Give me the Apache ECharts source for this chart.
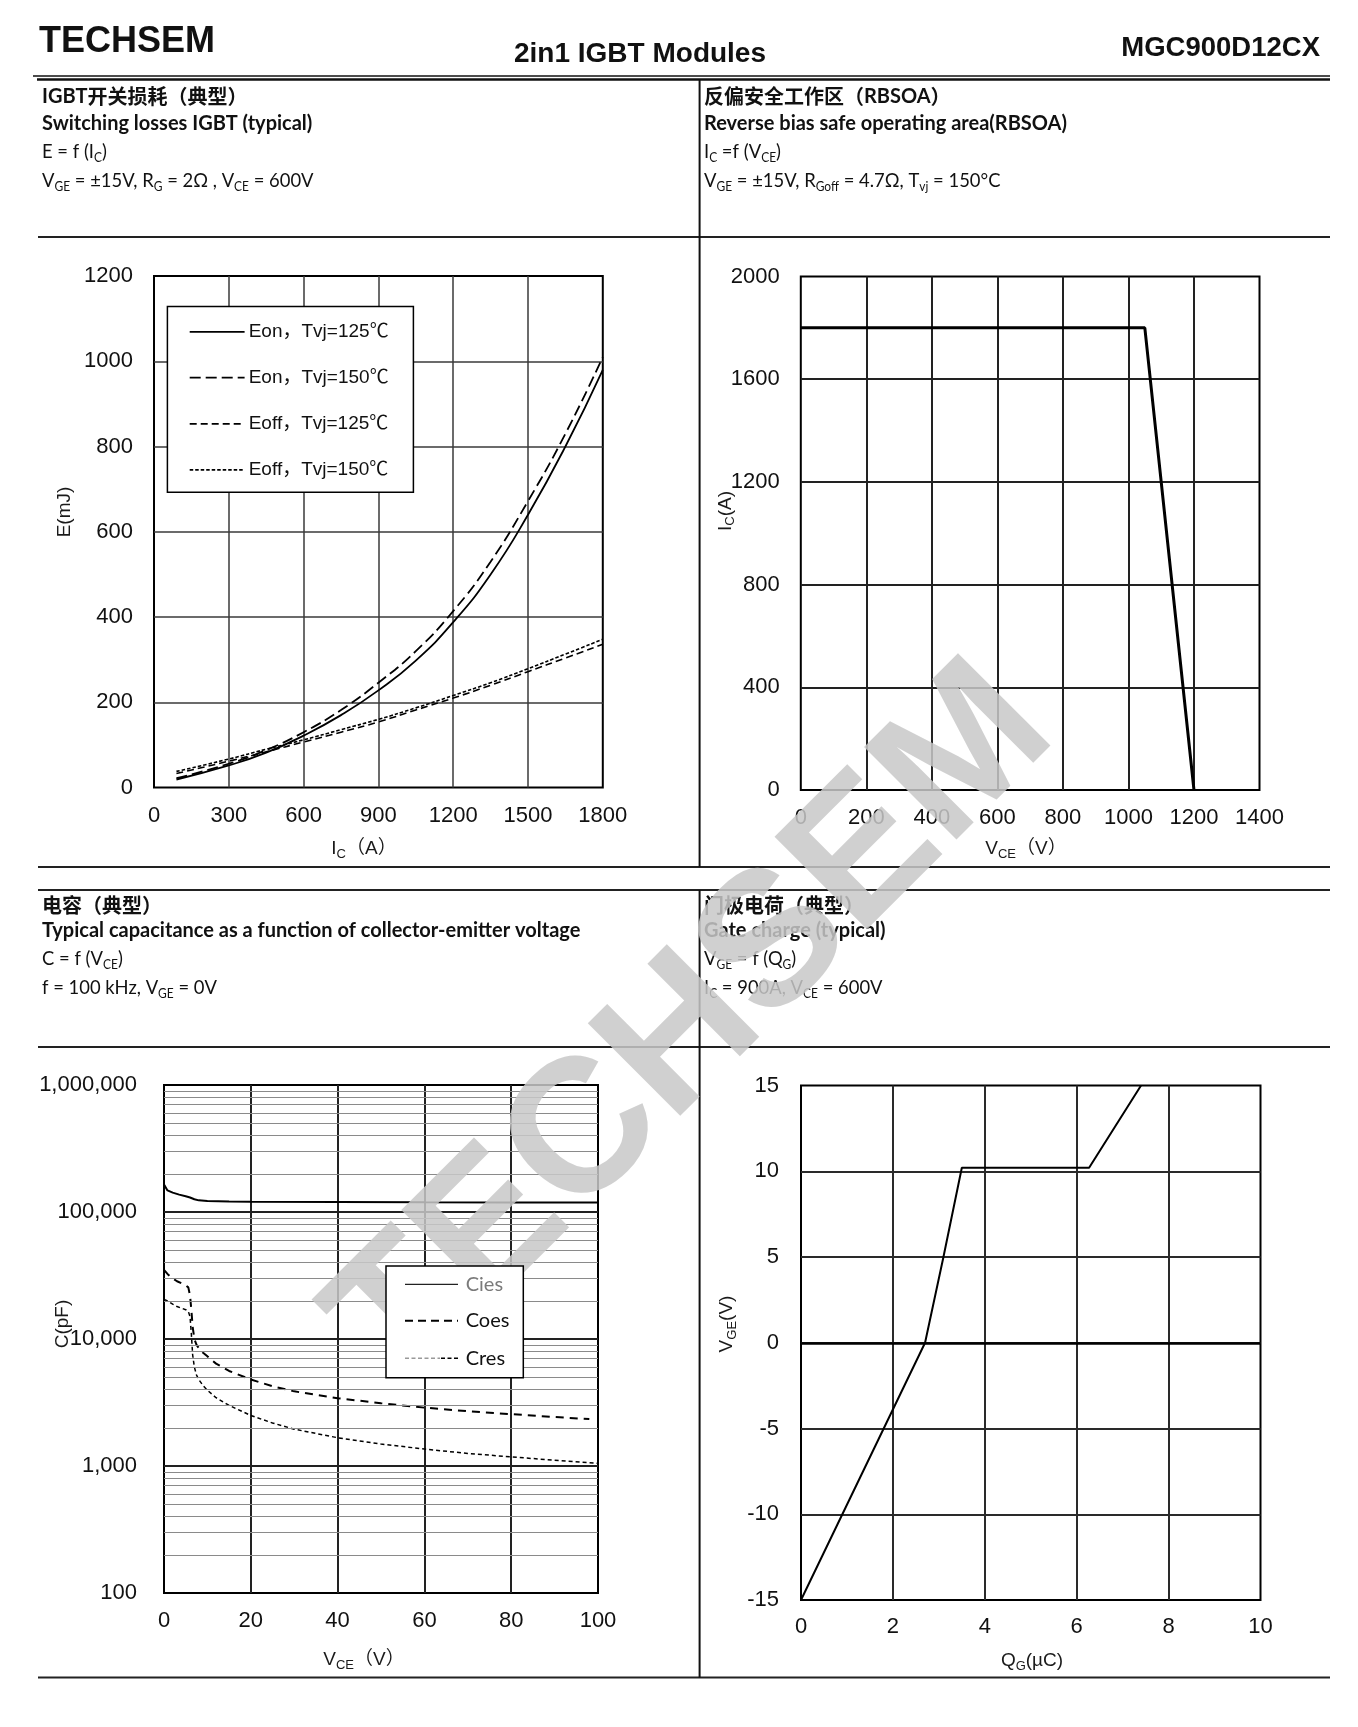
<!DOCTYPE html>
<html><head><meta charset="utf-8">
<script src="https://cdn.jsdelivr.net/npm/echarts@6/dist/echarts.min.js"></script>
<style>html,body{margin:0;padding:0;background:#fff}#c{width:1358px;height:1727px}</style>
</head><body><div id="c"></div>
<script>
// ---------- DATA ----------
// Switching losses E = f(Ic)
const lossIc   = [90, 300, 450, 600, 750, 900, 1050, 1200, 1350, 1500, 1650, 1800];
const eon125   = [19, 52, 82, 122, 170, 228, 298, 388, 500, 640, 800, 980];
const eon150   = [22, 56, 88, 130, 182, 246, 320, 414, 530, 672, 830, 1010];
const eoff125  = [33, 62, 84, 107, 130, 154, 182, 210, 240, 272, 304, 336];
const eoff150  = [38, 67, 90, 112, 136, 160, 187, 216, 246, 279, 313, 348];
const lossNames = ['Eon，Tvj=125℃', 'Eon，Tvj=150℃', 'Eoff，Tvj=125℃', 'Eoff，Tvj=150℃'];
// RBSOA
const rbsoaVce = [0, 1050, 1200];
const rbsoaIc  = [1800, 1800, 0];
// Capacitance
const ciesVce = [0, 0.8, 2, 3.5, 5, 6, 7, 8, 10, 15, 20, 40, 60, 80, 100];
const ciesC   = [165000, 148000, 142000, 137000, 133000, 130000, 126000, 123500, 122000, 121000, 120500, 119800, 119300, 119000, 118800];
const coesVce = [0, 1, 2, 3, 4, 5, 5.6, 6, 6.3, 6.6, 7, 7.5, 8, 9, 10, 12, 15, 20, 25, 30, 40, 50, 60, 70, 80, 90, 98];
const coesC   = [35000, 32000, 30000, 28500, 27500, 26500, 25500, 22000, 17000, 12500, 10000, 9000, 8500, 7800, 7300, 6400, 5600, 4800, 4250, 3870, 3420, 3120, 2880, 2700, 2560, 2430, 2340];
const cresVce = [0, 1, 2, 3, 4, 5, 5.6, 6, 6.3, 6.6, 7, 7.5, 8, 9, 10, 12, 15, 20, 25, 30, 40, 50, 60, 70, 80, 90, 100];
const cresC   = [20500, 19800, 18800, 18000, 17500, 17000, 16500, 15000, 11000, 7500, 6000, 5200, 4800, 4300, 3950, 3450, 3000, 2500, 2180, 1950, 1670, 1490, 1360, 1255, 1180, 1110, 1050];
const capMinorTicks = [200,300,400,500,600,700,800,900,
  2000,3000,4000,5000,6000,7000,8000,9000,
  20000,30000,40000,50000,60000,70000,80000,90000,
  200000,300000,400000,500000,600000,700000,800000,900000];
const capNames = ['Cies', 'Coes', 'Cres'];
// Gate charge
const gateQg  = [0, 2.7, 3.1, 3.5, 6.27, 7.4];
const gateVge = [-15, 0, 5, 10.2, 10.2, 15];

// ---------- HELPERS ----------
const pairs = (xs, ys) => xs.map((x, i) => [x, ys[i]]);
const LBL = {color:'#111', fontSize:22, fontFamily:"'Liberation Sans', Arial, sans-serif"};
const plainFmt = v => String(v);
function valAxis(gridIndex, min, max, interval, splitColor, splitWidth, margin, extra) {
  return Object.assign({
    type:'value', gridIndex, min, max, interval,
    axisLine:{show:false}, axisTick:{show:false},
    axisLabel:Object.assign({}, LBL, {margin, formatter:plainFmt, showMinLabel:true, showMaxLabel:true}),
    splitLine:{show:true, showMinLine:false, showMaxLine:false, lineStyle:{color:splitColor, width:splitWidth}}
  }, extra || {});
}
function grid(left, top, width, height) {
  return {left, top, width, height, show:true, borderColor:'#000', borderWidth:2,
    backgroundColor:'transparent', containLabel:false, outerBoundsMode:'none'};
}
function lineSeries(name, xi, data, width, dash, z) {
  return {name, type:'line', xAxisIndex:xi, yAxisIndex:xi, data, symbol:'none', smooth:false,
    z: z || 3, lineStyle:{color:'#000', width, type: dash && dash.length ? dash : 'solid'}, silent:true};
}
const LATO = "Lato, 'Noto Sans', sans-serif";
const ARIAL = "'Liberation Sans', 'Noto Sans CJK SC', sans-serif";
const CJK = "'Noto Sans CJK SC', sans-serif";
function rt(x, y, text, o) {
  o = o || {};
  const fam = o.family || LATO;
  const size = o.size || 20;
  const sub = o.sub || 13;
  return {type:'text', x, y, rotation:o.rot || 0, scaleX:o.sx || 1, z:o.z || 20, silent:true,
    style:{text, x:0, y:0, fontSize:size, fontFamily:fam, fontWeight:o.weight || 'normal',
      fill:o.color || '#111', align:o.align || 'left', verticalAlign:'middle', lineHeight:o.lh || 24,
      rich:{
        s:{fontSize:sub, lineHeight:sub, verticalAlign:'bottom', fontFamily:fam, fontWeight:o.weight || 'normal', fill:o.color || '#111'},
        c:{fontSize:20, lineHeight:24, fontFamily:CJK, fontWeight:'bold', fill:'#111'},
        b:{fontSize:20, lineHeight:24, fontFamily:LATO, fontWeight:'bold', fill:'#111'}
      }}};
}
function seg(x1, y1, x2, y2, w, color, dash, z) {
  return {type:'line', z:z || 10, silent:true, shape:{x1, y1, x2, y2},
    style:{stroke:color || '#222', lineWidth:w || 2, lineDash:dash || null}};
}

// ---------- GRAPHICS ----------
const g = [];
// header
g.push({type:'text', x:39, y:42, z:20, style:{text:'TECHSEM', fontSize:36, fontWeight:'bold', fontFamily:ARIAL, fill:'#111', align:'left', verticalAlign:'middle'}});
g.push({type:'text', x:640, y:54, z:20, style:{text:'2in1 IGBT Modules', fontSize:28, fontWeight:'bold', fontFamily:ARIAL, fill:'#111', align:'center', verticalAlign:'middle'}});
g.push({type:'text', x:1320, y:48, z:20, style:{text:'MGC900D12CX', fontSize:27.5, fontWeight:'bold', fontFamily:ARIAL, fill:'#111', align:'right', verticalAlign:'middle'}});
// frame lines
g.push(seg(33, 76, 1330, 76, 1.5, '#111'));
g.push(seg(37, 79.5, 1330, 79.5, 2.5, '#111'));
[237, 867, 890, 1047, 1677.5].forEach(y => g.push(seg(38, y, 1330, y, 2, '#222')));
g.push(seg(699.6, 79, 699.6, 867, 2, '#111'));
g.push(seg(699.6, 890, 699.6, 1677.5, 2, '#111'));
// section texts
const topRows = [96.5, 123.7, 152, 181];
const botRows = [905.5, 931, 959, 988];
const REG = {sx:0.92};
g.push(rt(42, topRows[0], '{b|IGBT}{c|开关损耗（典型）}'));
g.push(rt(42, topRows[1], 'Switching losses IGBT (typical)', {weight:'bold'}));
g.push(rt(42, topRows[2], 'E = f (I{s|C})', REG));
g.push(rt(42, topRows[3], 'V{s|GE} = ±15V, R{s|G} = 2Ω , V{s|CE} = 600V', REG));
g.push(rt(704, topRows[0], '{c|反偏安全工作区（}{b|RBSOA}{c|）}'));
g.push(rt(704, topRows[1], 'Reverse bias safe operating area(RBSOA)', {weight:'bold'}));
g.push(rt(704, topRows[2], 'I{s|C} =f (V{s|CE})', REG));
g.push(rt(704, topRows[3], 'V{s|GE} = ±15V, R{s|Goff} = 4.7Ω, T{s|vj} = 150°C', REG));
g.push(rt(42, botRows[0], '{c|电容（典型）}'));
g.push(rt(42, botRows[1], 'Typical capacitance as a function of collector-emitter voltage', {weight:'bold'}));
g.push(rt(42, botRows[2], 'C = f (V{s|CE})', REG));
g.push(rt(42, botRows[3], 'f = 100 kHz, V{s|GE} = 0V', REG));
g.push(rt(704, botRows[0], '{c|门极电荷（典型）}'));
g.push(rt(704, botRows[1], 'Gate charge (typical)', {weight:'bold'}));
g.push(rt(704, botRows[2], 'V{s|GE} = f (Q{s|G})', REG));
g.push(rt(704, botRows[3], 'I{s|C} = 900A, V{s|CE} = 600V', REG));
// axis names
const AN = {family:ARIAL, size:19, sub:13, color:'#1a1a1a', align:'center'};
g.push(rt(64.7, 512, 'E(mJ)', Object.assign({rot:Math.PI/2}, AN)));
g.push(rt(364, 849, 'I{s|C}（A）', AN));
g.push(rt(725.4, 511, 'I{s|C}(A)', Object.assign({rot:Math.PI/2}, AN)));
g.push(rt(1026, 849, 'V{s|CE}（V）', AN));
g.push(rt(62.5, 1324, 'C(pF)', Object.assign({rot:Math.PI/2}, AN)));
g.push(rt(364, 1660, 'V{s|CE}（V）', AN));
g.push(rt(726.7, 1324, 'V{s|GE}(V)', Object.assign({rot:Math.PI/2}, AN)));
g.push(rt(1032, 1661, 'Q{s|G}(µC)', AN));
// legend chart 1
g.push({type:'rect', z:30, silent:true, shape:{x:167.4, y:306.5, width:246, height:185.8}, style:{fill:'#fff', stroke:'#000', lineWidth:1.5}});
const lossDash = [null, [11,5], [7,4], [3.5,2]];
const lossLegY = [331.8, 377.7, 423.9, 469.8];
lossNames.forEach((n, i) => {
  g.push(seg(189.7, lossLegY[i], 244.6, lossLegY[i], 1.8, '#000', lossDash[i], 31));
  g.push(rt(248.7, lossLegY[i], n, {family:ARIAL, size:19, z:31, color:'#111'}));
});
// legend chart 3 (drawn above the watermark, as in the reference)
g.push({type:'rect', z:110, silent:true, shape:{x:386, y:1266, width:137.3, height:111.7}, style:{fill:'#fff', stroke:'#000', lineWidth:1.5}});
const capLegY = [1284.3, 1320.7, 1358.3];
g.push(seg(405, capLegY[0], 458, capLegY[0], 1.3, '#222', null, 111));
g.push(seg(405, capLegY[1], 458, capLegY[1], 2, '#000', [8,5], 111));
g.push(seg(405, capLegY[2], 440, capLegY[2], 1.4, '#999', [4,2.5], 111));
g.push(seg(441, capLegY[2], 458, capLegY[2], 1.4, '#000', [4,2.5], 111));
const capLegColor = ['#7a7a7a', '#111', '#111'];
capNames.forEach((n, i) => {
  g.push(rt(465.7, capLegY[i], n, {size:20, z:111, color:capLegColor[i]}));
});
// watermark
g.push({type:'text', x:694, y:1028, rotation:Math.PI/4, z:100, silent:true,
  style:{text:'TECHSEM', x:0, y:0, fontSize:190, fontWeight:'bold', fontFamily:ARIAL,
    fill:'rgba(200,200,200,0.85)', align:'center', verticalAlign:'middle'}});

// ---------- OPTION ----------
const capFmt = v => Math.round(v).toLocaleString('en-US');
const option = {
  animation:false,
  backgroundColor:'#fff',
  grid:[
    grid(154, 276, 448.8, 511.6),
    grid(800.8, 276.5, 458.7, 513.5),
    grid(164, 1085, 434, 508),
    grid(801, 1085.5, 459.5, 514.5)
  ],
  xAxis:[
    valAxis(0, 0, 1800, 300, '#3a3a3a', 1.5, 17),
    valAxis(1, 0, 1400, 200, '#222', 2, 17),
    valAxis(2, 0, 100, 20, '#222', 2, 17),
    valAxis(3, 0, 10, 2, '#2a2a2a', 2, 16)
  ],
  yAxis:[
    valAxis(0, 0, 1200, 200, '#3a3a3a', 1.5, 21),
    valAxis(1, 0, 2000, 400, '#222', 2, 21),
    {type:'log', gridIndex:2, logBase:10, min:100, max:1000000, splitNumber:4,
      axisLine:{show:false}, axisTick:{show:false},
      axisLabel:Object.assign({}, LBL, {margin:27, formatter:capFmt, showMinLabel:true, showMaxLabel:true}),
      splitLine:{show:true, showMinLine:false, showMaxLine:false, lineStyle:{color:'#222', width:2}},
      minorSplitLine:{show:false}},
    valAxis(3, -15, 15, 5, '#2a2a2a', 2, 22)
  ],
  graphic:{elements:g},
  series:[
    Object.assign(lineSeries(lossNames[0], 0, pairs(lossIc, eon125), 1.8, null), {smooth:true}),
    Object.assign(lineSeries(lossNames[1], 0, pairs(lossIc, eon150), 1.8, [11,5]), {smooth:true}),
    Object.assign(lineSeries(lossNames[2], 0, pairs(lossIc, eoff125), 1.6, [7,4]), {smooth:true}),
    Object.assign(lineSeries(lossNames[3], 0, pairs(lossIc, eoff150), 1.6, [3.5,2]), {smooth:true}),
    lineSeries('RBSOA', 1, pairs(rbsoaVce, rbsoaIc), 3, null),
    Object.assign(lineSeries(capNames[0], 2, pairs(ciesVce, ciesC), 2, null, 2), {
      markLine:{silent:true, symbol:['none','none'], label:{show:false},
        lineStyle:{color:'#8a8a8a', width:1, type:'solid'},
        data:capMinorTicks.map(v => ({yAxis:v}))}
    }),
    lineSeries(capNames[1], 2, pairs(coesVce, coesC), 2, [8,6], 4),
    lineSeries(capNames[2], 2, pairs(cresVce, cresC), 1.5, [4,3], 4),
    Object.assign(lineSeries('VGE', 3, pairs(gateQg, gateVge), 2, null), {
      markLine:{silent:true, symbol:['none','none'], label:{show:false},
        lineStyle:{color:'#000', width:2.5, type:'solid'}, data:[{yAxis:0}]}
    })
  ]
};
const chart = echarts.init(document.getElementById('c'), null, {renderer:'canvas', width:1358, height:1727});
chart.setOption(option);
</script>
</body></html>
